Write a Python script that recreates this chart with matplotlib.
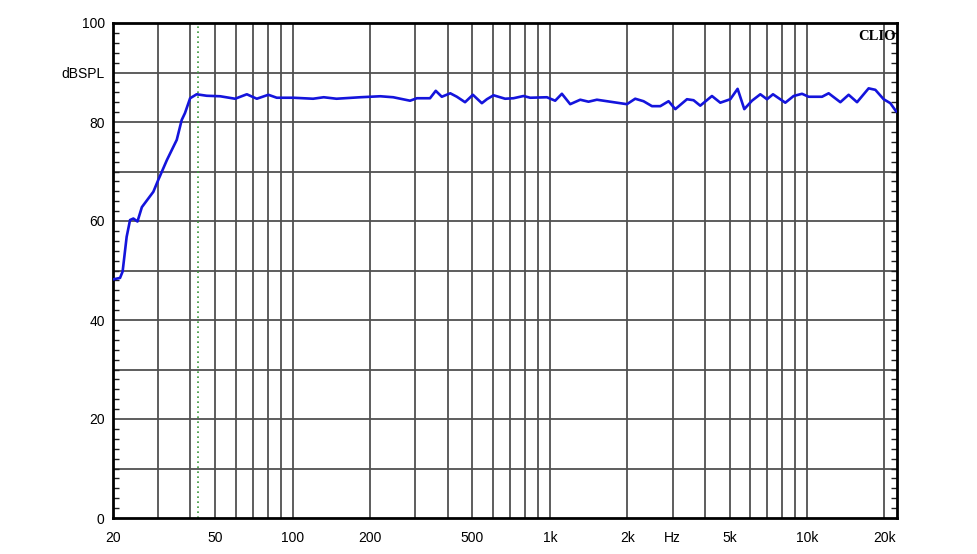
import matplotlib.pyplot as plt
from matplotlib.ticker import FixedLocator, NullFormatter

plt.rcParams["font.family"] = ["Liberation Sans", "DejaVu Sans"]

# frequency response (Hz, dB SPL)
freq = [20, 21.3, 21.8, 22.6, 23.3, 24.0, 24.9, 25.9, 28.7, 30.0, 32.4, 35.4,
        37.0, 38.1, 39.9, 42.3, 46.3, 52.2, 59.7, 66.3, 72.5, 80.4, 86.7,
        100.6, 120, 132, 148, 183, 219, 246, 286, 304, 342, 360, 380, 410,
        435, 468, 502, 544, 569, 604, 670, 722, 790, 839, 974, 1049, 1114,
        1200, 1313, 1414, 1524, 1769, 1994, 2148, 2314, 2496, 2689, 2896,
        3076, 3415, 3622, 3846, 4271, 4602, 5034, 5374, 5706, 6112, 6586,
        6993, 7378, 8238, 8874, 9569, 10150, 11448, 12146, 13488, 14526,
        15662, 17374, 18451, 19876, 21100, 22260]
spl = [48.2, 48.5, 49.8, 56.8, 60.2, 60.5, 59.9, 62.8, 65.9, 68.3, 72.3, 76.4,
       80.4, 81.8, 84.8, 85.6, 85.3, 85.2, 84.7, 85.6, 84.7, 85.5, 84.9,
       84.9, 84.7, 85.0, 84.7, 85.0, 85.2, 85.0, 84.3, 84.8, 84.8, 86.3,
       85.1, 85.8, 85.1, 84.0, 85.5, 83.8, 84.6, 85.4, 84.7, 84.8, 85.25,
       84.9, 85.0, 84.3, 85.7, 83.6, 84.5, 84.1, 84.5, 84.0, 83.6, 84.7,
       84.2, 83.2, 83.2, 84.2, 82.6, 84.6, 84.4, 83.3, 85.25, 83.9, 84.6,
       86.7, 82.6, 84.3, 85.6, 84.6, 85.6, 83.9, 85.25, 85.7, 85.1, 85.1,
       85.8, 84.0, 85.5, 84.0, 86.8, 86.5, 84.6, 83.8, 82.1]

marker_freq = 42.7

x_grid = [30, 40, 50, 60, 70, 80, 90, 100, 200, 300, 400, 500, 600, 700,
          800, 900, 1000, 2000, 3000, 4000, 5000, 6000, 7000, 8000, 9000,
          10000, 20000]
x_label_pos = [20, 50, 100, 200, 500, 1000, 2000, 3000, 5000, 10000, 20000]
x_labels = ["20", "50", "100", "200", "500", "1k", "2k", "Hz", "5k", "10k", "20k"]
y_label_pos = [0, 20, 40, 60, 80, 90, 100]
y_labels = ["0", "20", "40", "60", "80", "dBSPL", "100"]

fig = plt.figure(figsize=(9.77, 5.54), dpi=100)
ax = fig.add_axes([113 / 977, 1 - 518 / 554, 784 / 977, 495 / 554])

for f in x_grid:
    ax.axvline(f, color="#505050", lw=1.3, zorder=1)
for v in range(10, 100, 10):
    ax.axhline(v, color="#505050", lw=1.3, zorder=1)

ax.axvline(marker_freq, color="#3a9a3a", lw=1.2, ls=(0, (1, 2)), zorder=2)
ax.plot(freq, spl, color="#1414dc", lw=1.9, zorder=3,
        solid_joinstyle="round", solid_capstyle="round")

ax.set_xscale("log")
ax.set_xlim(20, 22400)
ax.set_ylim(0, 100)

ax.xaxis.set_major_locator(FixedLocator(x_label_pos))
ax.xaxis.set_minor_locator(FixedLocator([]))
ax.set_xticklabels(x_labels)
ax.xaxis.set_minor_formatter(NullFormatter())
ax.tick_params(axis="x", which="major", length=0, pad=9, labelsize=10)

ax.set_yticks(y_label_pos)
ax.set_yticklabels(y_labels)
ax.yaxis.set_minor_locator(FixedLocator(range(0, 101, 2)))
ax.tick_params(axis="y", which="major", length=0, pad=6, labelsize=10)
ax.tick_params(axis="y", which="minor", direction="in", length=4, width=1,
               left=True, right=True, color="#202020")

for s in ax.spines.values():
    s.set_linewidth(2)
    s.set_color("black")

ax.text(0.998, 0.985, "CLIO", transform=ax.transAxes, ha="right", va="top",
        family="Liberation Serif", fontweight="bold", fontsize=10.5)

fig.savefig("out.png", dpi=100)
